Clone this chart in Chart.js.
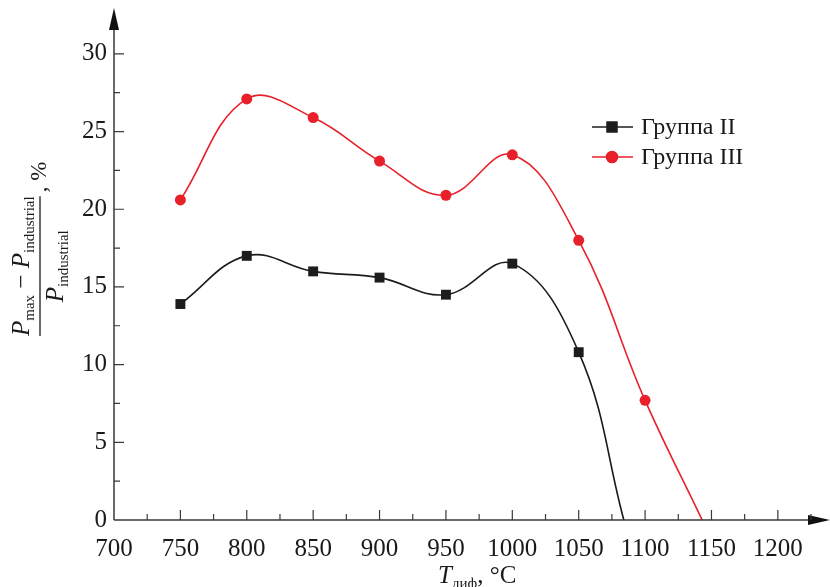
<!DOCTYPE html>
<html>
<head>
<meta charset="utf-8">
<script src="https://cdn.jsdelivr.net/npm/chart.js@4"></script>
<style>
  body { margin: 0; background: #fff; }
  #wrap { width: 830px; height: 587px; position: relative; }
</style>
</head>
<body>
<div id="wrap"><canvas id="chart"></canvas></div>
<script>
// values
const temps2 = [750, 800, 850, 900, 950, 1000, 1050, 1084];
const group2 = [13.9, 17.0, 16.0, 15.6, 14.5, 16.5, 10.8, 0];
const temps3 = [750, 800, 850, 900, 950, 1000, 1050, 1100, 1143];
const group3 = [20.6, 27.1, 25.9, 23.1, 20.9, 23.5, 18.0, 7.7, 0];
const seriesNames = ['Группа II', 'Группа III'];

const BLACK = '#1c1c1c';
const RED = '#e8202a';
const AXIS = '#3a3a3a';
const SERIF = '"Liberation Serif", "Times New Roman", serif';

const toPts = (xs, ys) => xs.map((x, i) => ({ x: x, y: ys[i] }));
// the last point is where the curve meets zero, no marker there
const radii = (n, r) => Array.from({ length: n }, (_, i) => (i === n - 1 ? 0 : r));

// axes with arrows, inward ticks, axis titles, legend
const decor = {
  id: 'decor',
  afterDraw(c) {
    const ctx = c.ctx;
    const xs = c.scales.x, ys = c.scales.y;
    const x0 = xs.left, y0 = ys.bottom;
    ctx.save();
    ctx.strokeStyle = AXIS;
    ctx.fillStyle = AXIS;
    ctx.lineWidth = 1.5;
    // axis lines
    ctx.beginPath();
    ctx.moveTo(x0, y0); ctx.lineTo(x0, 14);
    ctx.moveTo(x0, y0); ctx.lineTo(826, y0);
    ctx.stroke();
    // arrows
    ctx.fillStyle = '#111';
    ctx.beginPath();
    ctx.moveTo(x0, 8); ctx.lineTo(x0 - 5, 30); ctx.lineTo(x0 + 5, 30); ctx.closePath(); ctx.fill();
    ctx.beginPath();
    ctx.moveTo(830, y0); ctx.lineTo(808, y0 - 5); ctx.lineTo(808, y0 + 5); ctx.closePath(); ctx.fill();
    // ticks
    ctx.lineWidth = 1.2;
    ctx.beginPath();
    for (let v = 725; v <= 1225; v += 25) {
      const px = xs.getPixelForValue(v);
      const len = v % 50 === 0 ? 10 : 6;
      ctx.moveTo(px, y0); ctx.lineTo(px, y0 - len);
    }
    for (let v = 2.5; v <= 30; v += 2.5) {
      const py = ys.getPixelForValue(v);
      const len = v % 5 === 0 ? 10 : 6;
      ctx.moveTo(x0, py); ctx.lineTo(x0 + len, py);
    }
    ctx.stroke();

    // x title: T_диф, °C
    ctx.fillStyle = '#1a1a1a';
    drawRuns(ctx, 438, 583, [
      { t: 'T', f: 'italic 25px ' + SERIF, dy: 0 },
      { t: 'диф', f: '15px ' + SERIF, dy: 5 },
      { t: ', °C', f: '25px ' + SERIF, dy: 0 }
    ]);

    // y title: fraction, rotated
    ctx.save();
    ctx.translate(0, 587);
    ctx.rotate(-Math.PI / 2);
    const num = [
      { t: 'P', f: 'italic 25px ' + SERIF, dy: 0 },
      { t: 'max', f: '15px ' + SERIF, dy: 5 },
      { t: ' \u2212 ', f: '25px ' + SERIF, dy: 0 },
      { t: 'P', f: 'italic 25px ' + SERIF, dy: 0 },
      { t: 'industrial', f: '15px ' + SERIF, dy: 5 }
    ];
    const den = [
      { t: 'P', f: 'italic 25px ' + SERIF, dy: 0 },
      { t: 'industrial', f: '15px ' + SERIF, dy: 5 }
    ];
    const nw = runsWidth(ctx, num), dw = runsWidth(ctx, den);
    const u0 = 251, mid = u0 + nw / 2;
    drawRuns(ctx, u0, 29, num);
    ctx.strokeStyle = '#1a1a1a';
    ctx.lineWidth = 1.3;
    ctx.beginPath(); ctx.moveTo(u0, 40); ctx.lineTo(u0 + nw, 40); ctx.stroke();
    drawRuns(ctx, mid - dw / 2, 63, den);
    drawRuns(ctx, u0 + nw + 4, 46, [{ t: ', %', f: '23px ' + SERIF, dy: 0 }]);
    ctx.restore();

    // legend
    const items = [
      { y: 127, color: BLACK, style: 'rect', r: 7 },
      { y: 157, color: RED, style: 'circle', r: 5.5 }
    ];
    items.forEach((it, i) => {
      ctx.strokeStyle = it.color;
      ctx.fillStyle = it.color;
      ctx.lineWidth = 1.6;
      ctx.beginPath(); ctx.moveTo(592, it.y); ctx.lineTo(633, it.y); ctx.stroke();
      Chart.helpers.drawPoint(ctx, { pointStyle: it.style, radius: it.r, borderWidth: 1 }, 612, it.y);
      ctx.fillStyle = '#1a1a1a';
      ctx.font = '24px ' + SERIF;
      ctx.textBaseline = 'middle';
      ctx.textAlign = 'left';
      ctx.fillText(seriesNames[i], 641, it.y + 1);
    });
    ctx.restore();
  }
};

function runsWidth(ctx, runs) {
  let w = 0;
  runs.forEach(r => { ctx.font = r.f; w += ctx.measureText(r.t).width; });
  return w;
}
function drawRuns(ctx, x, y, runs) {
  ctx.textBaseline = 'alphabetic';
  ctx.textAlign = 'left';
  runs.forEach(r => {
    ctx.font = r.f;
    ctx.fillText(r.t, x, y + r.dy);
    x += ctx.measureText(r.t).width;
  });
}

new Chart(document.getElementById('chart'), {
  type: 'line',
  data: {
    datasets: [
      {
        label: seriesNames[0],
        data: toPts(temps2, group2),
        borderColor: BLACK,
        backgroundColor: BLACK,
        borderWidth: 1.6,
        pointStyle: 'rect',
        pointRadius: radii(temps2.length, 7),
        pointBorderWidth: 0,
        tension: 0.4
      },
      {
        label: seriesNames[1],
        data: toPts(temps3, group3),
        borderColor: RED,
        backgroundColor: RED,
        borderWidth: 1.6,
        pointStyle: 'circle',
        pointRadius: radii(temps3.length, 5.5),
        pointBorderWidth: 0,
        tension: 0.4
      }
    ]
  },
  options: {
    responsive: true,
    maintainAspectRatio: false,
    animation: false,
    layout: { padding: { top: 10, right: 0, left: 0, bottom: 0 } },
    plugins: { legend: { display: false }, tooltip: { enabled: false } },
    scales: {
      x: {
        type: 'linear',
        min: 700,
        max: 1234,
        grid: { display: false },
        border: { display: false },
        ticks: {
          stepSize: 50,
          includeBounds: false,
          autoSkip: false,
          maxRotation: 0,
          padding: 6,
          color: '#1a1a1a',
          font: { family: SERIF, size: 25 },
          callback: v => (v % 50 === 0 && v <= 1200 ? v : '')
        },
        afterFit: s => { s.height = 67; }
      },
      y: {
        min: 0,
        max: 32.05,
        grid: { display: false, drawTicks: false, tickLength: 0 },
        border: { display: false },
        ticks: {
          stepSize: 5,
          includeBounds: false,
          padding: 7,
          color: '#1a1a1a',
          font: { family: SERIF, size: 25 },
          callback: v => (v % 5 === 0 && v <= 30 ? v : '')
        },
        afterFit: s => { s.width = 114; }
      }
    }
  },
  plugins: [decor]
});
</script>
</body>
</html>
